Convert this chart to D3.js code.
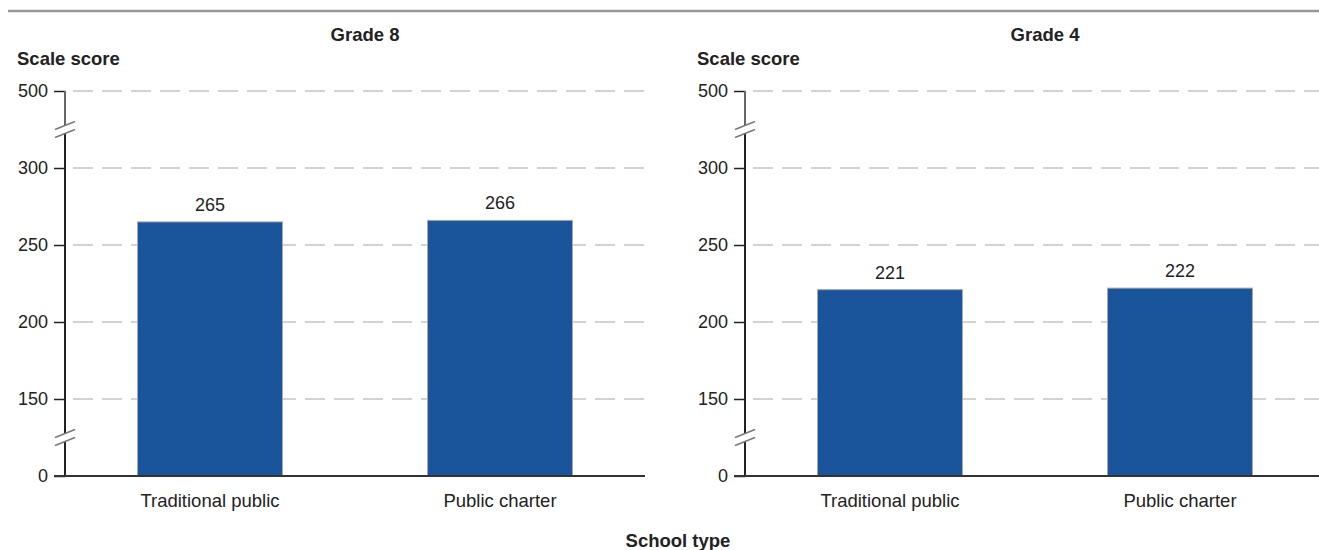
<!DOCTYPE html>
<html>
<head>
<meta charset="utf-8">
<script src="https://cdn.jsdelivr.net/npm/d3@7"></script>
<style>
  body { margin: 0; background: #fff; }
  text { font-family: "Liberation Sans", Arial, sans-serif; fill: #222; }
</style>
</head>
<body>
<div id="chart"></div>
<script>
// data
var categories = ["Traditional public", "Public charter"];
var grade8Scores = [265, 266];
var grade4Scores = [221, 222];
var panelTitles = ["Grade 8", "Grade 4"];
var tickValues = [0, 150, 200, 250, 300, 500];
var yTitle = "Scale score";
var xTitle = "School type";

var w = 1319, h = 550;

var svg = d3.select("#chart").append("svg")
    .attr("width", w)
    .attr("height", h);

// top rule
svg.append("line")
   .attr("x1", 8).attr("x2", w)
   .attr("y1", 11).attr("y2", 11)
   .attr("stroke", "#999").attr("stroke-width", 2.5);

// broken y scale: 0 -> 150 and 300 -> 500 squeezed into one step each
var y = d3.scaleLinear()
    .domain([0, 150, 300, 500])
    .range([476, 399, 168, 91]);

var panels = [
  { title: panelTitles[0], values: grade8Scores, left: 65 },
  { title: panelTitles[1], values: grade4Scores, left: 745 }
];
var panelW = 580;

panels.forEach(function(p) {
    var g = svg.append("g").attr("transform", "translate(" + p.left + ",0)");

    var x = d3.scaleBand()
        .domain(categories)
        .range([0, panelW])
        .paddingInner(0.5)
        .paddingOuter(0.25);

    // dashed gridlines
    g.selectAll(".grid")
     .data(tickValues.filter(function(d) { return d > 0; }))
     .enter().append("line")
     .attr("class", "grid")
     .attr("x1", 0).attr("x2", panelW)
     .attr("y1", function(d) { return y(d); })
     .attr("y2", function(d) { return y(d); })
     .attr("stroke", "#d2d2d2")
     .attr("stroke-width", 2)
     .attr("stroke-dasharray", "20,9")
     .attr("stroke-dashoffset", -8);

    // bars
    g.selectAll(".bar")
     .data(p.values)
     .enter().append("rect")
     .attr("class", "bar")
     .attr("x", function(d, i) { return x(categories[i]); })
     .attr("y", function(d) { return y(d); })
     .attr("width", x.bandwidth())
     .attr("height", function(d) { return y(0) - y(d); })
     .attr("fill", "#1a549a")
     .attr("stroke", "#a9a9a9")
     .attr("stroke-width", 1);

    // value labels
    g.selectAll(".val")
     .data(p.values)
     .enter().append("text")
     .attr("class", "val")
     .attr("x", function(d, i) { return x(categories[i]) + x.bandwidth() / 2; })
     .attr("y", function(d) { return y(d) - 11; })
     .attr("text-anchor", "middle")
     .style("font-size", "18px")
     .text(function(d) { return d; });

    // y axis ticks + labels
    var axis = d3.axisLeft(y).tickValues(tickValues).tickSize(11).tickPadding(6);
    var ax = g.append("g").call(axis);
    ax.select(".domain").remove();
    ax.selectAll(".tick line").attr("stroke", "#222").attr("stroke-width", 1.5);
    ax.selectAll(".tick text")
      .style("font-size", "18px")
      .style("font-family", "'Liberation Sans', Arial, sans-serif")
      .attr("fill", "#222");

    // axis line with breaks
    var b1 = y(400), b2 = y(75), gap = 4;
    var segs = [[y(500), b1 - gap, "#666"], [b1 + gap, b2 - gap, "#222"], [b2 + gap, y(0), "#222"]];
    g.selectAll(".seg")
     .data(segs)
     .enter().append("line")
     .attr("x1", 0).attr("x2", 0)
     .attr("y1", function(d) { return d[0]; })
     .attr("y2", function(d) { return d[1]; })
     .attr("stroke", function(d) { return d[2]; })
     .attr("stroke-width", 2);

    // break marks
    [b1, b2].forEach(function(b) {
        [-gap, gap].forEach(function(o) {
            g.append("line")
             .attr("x1", -10).attr("x2", 10)
             .attr("y1", b + o + 4).attr("y2", b + o - 4)
             .attr("stroke", "#777").attr("stroke-width", 1.5);
        });
    });

    // baseline
    g.append("line")
     .attr("x1", -11).attr("x2", panelW)
     .attr("y1", y(0)).attr("y2", y(0))
     .attr("stroke", "#333").attr("stroke-width", 2);

    // category labels
    g.selectAll(".cat")
     .data(categories)
     .enter().append("text")
     .attr("class", "cat")
     .attr("x", function(d) { return x(d) + x.bandwidth() / 2; })
     .attr("y", 507)
     .attr("text-anchor", "middle")
     .style("font-size", "18.5px")
     .text(function(d) { return d; });

    // titles
    g.append("text")
     .attr("x", 300).attr("y", 41)
     .attr("text-anchor", "middle")
     .style("font-size", "18.5px").style("font-weight", "bold")
     .text(p.title);

    g.append("text")
     .attr("x", -48).attr("y", 65)
     .style("font-size", "18.5px").style("font-weight", "bold")
     .text(yTitle);
});

svg.append("text")
   .attr("x", 678).attr("y", 547)
   .attr("text-anchor", "middle")
   .style("font-size", "18.5px").style("font-weight", "bold")
   .text(xTitle);
</script>
</body>
</html>
